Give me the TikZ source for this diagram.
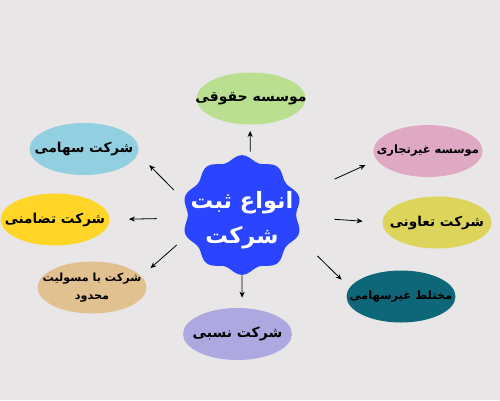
\documentclass[tikz,border=0pt]{standalone}
\usepackage{fontspec}
\newfontfamily\farsi[Script=Arabic]{DejaVu Sans}
\TeXXeTstate=1
\usetikzlibrary{shapes.geometric, arrows.meta}

\definecolor{bgcol}{HTML}{E8E6E6}
\definecolor{hubblue}{HTML}{2B45FE}
\definecolor{legalgreen}{HTML}{BADF91}
\definecolor{sahamiblue}{HTML}{92CFE0}
\definecolor{zamaniyellow}{HTML}{FFD628}
\definecolor{mahdudtan}{HTML}{E1C18F}
\definecolor{nesbilav}{HTML}{AEA8E0}
\definecolor{ghairpink}{HTML}{E0A9C3}
\definecolor{taavonyel}{HTML}{DDD55B}
\definecolor{mokhtalteal}{HTML}{0D6778}

\begin{document}
\begin{tikzpicture}[x=1pt, y=-1pt, thick, >={Stealth[length=6pt,width=5pt]},
    branch/.style={ellipse, minimum width=109pt, minimum height=52pt, inner sep=0pt},
    caption/.style={font=\farsi\bfseries\fontsize{13.6}{17}\selectfont, align=center, inner sep=0pt},
    smallcap/.style={caption, font=\farsi\bfseries\fontsize{11.5}{18}\selectfont}]
    % Background
    \fill[bgcol] (0,0) rectangle (500,400);
    \useasboundingbox (0,0) rectangle (500,400);

    % Central badge
    \node[circle, minimum size=118pt, inner sep=0pt] (hub) at (242,215) {};
    \fill[hubblue, shift={(hub.center)}] plot[domain=0:360, samples=241, variable=\t]
        ({(57+2.8*cos(10*(\t-90)))*cos(\t)}, {-(57+2.8*cos(10*(\t-90)))*sin(\t)}) -- cycle;
    \node[text=white, align=center, font=\farsi\bfseries\fontsize{22.5}{35}\selectfont] (title) at ([yshift=-5pt]hub.center)
        {\beginR انواع ثبت\endR\\\beginR شرکت\endR};

    % Define nodes with uniform size
    \node[branch, fill=legalgreen, label={[caption, font=\farsi\bfseries\fontsize{14}{17}\selectfont]center:{\beginR موسسه حقوقی\endR}}] (legal) at (251,98.5) {};
    \node[branch, fill=sahamiblue, label={[caption]center:{\beginR شرکت سهامی\endR}}] (sahami) at (84,149) {};
    \node[branch, fill=zamaniyellow, label={[caption]center:{\beginR شرکت تضامنی\endR}}] (zamani) at (55,219.5) {};
    \node[branch, fill=mahdudtan, label={[smallcap, font=\farsi\bfseries\fontsize{11.2}{18}\selectfont]center:{\beginR شرکت با مسولیت\endR\\\beginR محدود\endR}}] (mahdud) at (92,287.5) {};
    \node[branch, fill=nesbilav, label={[caption, font=\farsi\bfseries\fontsize{14}{17}\selectfont]center:{\beginR شرکت نسبی\endR}}] (nesbi) at (237.5,334) {};
    \node[branch, fill=ghairpink, label={[smallcap]center:{\beginR موسسه غیرتجاری\endR}}] (ghair) at (428,151) {};
    \node[branch, fill=taavonyel, label={[caption]center:{\beginR شرکت تعاونی\endR}}] (taavon) at (437,222.5) {};
    \node[branch, fill=mokhtalteal, label={[smallcap]center:{\beginR مختلط غیرسهامی\endR}}] (mokhtal) at (401,296.5) {};

    % Draw arrows
    \draw[->, shorten <=4.5pt, shorten >=6pt] (hub.82) -- (legal.-92);
    \draw[->, shorten <=15pt, shorten >=16pt] (hub.166.8) -- (sahami.-5.8);
    \draw[->, shorten <=26pt, shorten >=19pt] (hub.183.9) -- (zamani.0.5);
    \draw[->, shorten <=13pt, shorten >=12pt] (hub.201.3) -- (mahdud.13.5);
    \draw[->, shorten <=1pt, shorten >=10pt] (hub.-90) -- (nesbi.80);
    \draw[->, shorten <=40pt, shorten >=12pt] (hub.19.8) -- (ghair.190.2);
    \draw[->, shorten <=33pt, shorten >=19.5pt] (hub.-2.6) -- (taavon.180);
    \draw[->, shorten <=28pt, shorten >=11pt] (hub.-21.6) -- (mokhtal.170.2);
\end{tikzpicture}
\end{document}
